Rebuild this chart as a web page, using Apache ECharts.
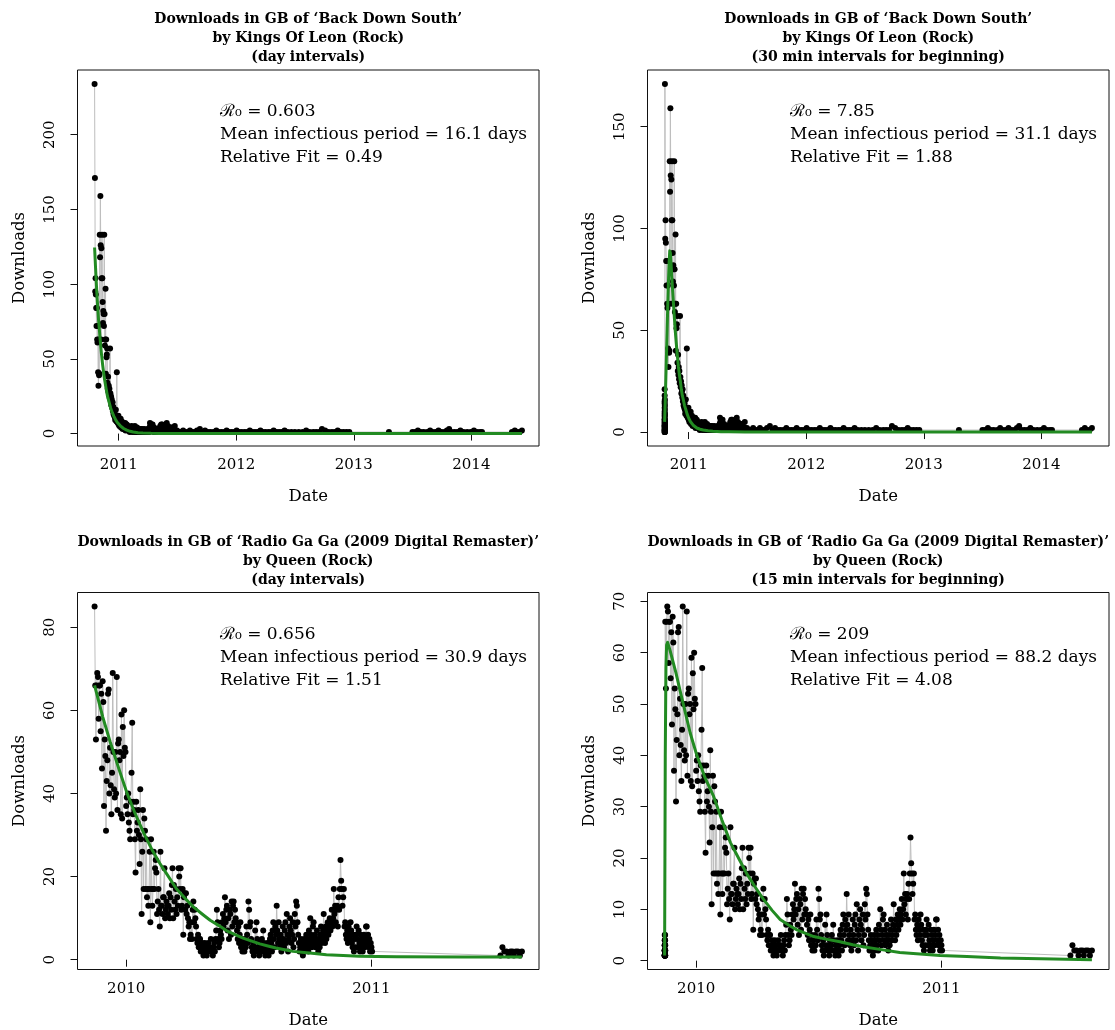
<!DOCTYPE html>
<html>
<head>
<meta charset="utf-8">
<script src="https://cdn.jsdelivr.net/npm/echarts@6/dist/echarts.min.js"></script>
<style>
  html, body { margin: 0; padding: 0; background: #fff; }
  #chart { width: 1115px; height: 1030px; }
</style>
</head>
<body>
<div id="chart"></div>
<script>
// start dates as fractional years (Oct 18 2010, Nov 15 2009)
const KL_START = 2010.7945;
const Q_START = 2009.8712;

// Back Down South, day 0 and daily values from day 1
const klDay0 = 234;
const klDaily = [
  171, 95, 104, 93, 84, 72, 84, 63, 61, 72,
  41, 32, 63, 39, 40, 133, 118, 159, 126, 63,
  124, 104, 133, 104, 88, 74, 82, 80, 72, 133,
  80, 59, 63, 97, 40, 63, 51, 53, 57, 34,
  30, 38, 28, 32, 26, 30, 24, 57, 27, 22,
  25, 19, 23, 20, 17, 21, 15, 18, 13, 16,
  12, 14, 11, 9, 12, 16, 10, 8, 41, 11,
  9, 7, 10, 12, 6, 8, 5, 9, 7, 6,
  10, 4, 7, 5, 8, 6, 3, 5, 7, 4,
  6, 3, 5, 4, 7, 2, 5, 3, 4, 6,
  3, 4, 2, 5, 3, 2, 4, 3, 1, 3,
  2, 4, 2, 3, 5, 2, 1, 3, 2, 4,
  2, 3, 1, 2, 5, 3, 2, 1, 3, 2,
  2, 4, 1, 2, 3, 1, 2, 2, 3, 1,
  2, 1, 3, 2, 1, 2, 3, 1, 2, 1,
  1, 2, 1, 3, 1, 2, 1, 1, 2, 1,
  2, 1, 1, 3, 2, 1, 2, 1, 1, 2,
  4, 7, 5, 3, 5, 2, 4, 6, 3, 6,
  2, 3, 1, 2, 4, 2, 1, 3, 2, 1,
  2, 1, 3, 2, 1, 2, 1, 1, 2, 1,
  3, 2, 4, 5, 3, 5, 6, 2, 3, 6,
  4, 2, 3, 1, 2, 3, 1, 2, 4, 2,
  3, 5, 4, 7, 3, 2, 4, 5, 2, 3,
  1, 2, 3, 2, 1, 4, 2, 3, 1, 4,
  2, 1, 3, 2, 1, 2, 1, 2, 5, 2
];
const klLateDays = [
  256, 262, 268, 275, 281, 288, 296, 303, 310, 318,
  327, 335, 343, 352, 360, 369, 378, 386, 394, 402,
  410, 418, 426, 434, 441, 449, 457, 466, 474, 482,
  490, 498, 506, 515, 523, 531, 540, 548, 556, 565,
  573, 581, 590, 600, 611, 622, 634, 646, 657, 668,
  679, 688, 697, 706, 716, 727, 737, 746, 755, 764,
  773, 782, 791, 914,
  987, 995, 1004, 1013, 1022, 1033, 1042, 1050, 1059, 1068,
  1077, 1086, 1094, 1101, 1108, 1117, 1126, 1136, 1146, 1157,
  1168, 1178, 1188, 1197, 1203,
  1296, 1305, 1312, 1320, 1327
];
const klLateDl = [
  2, 1, 1, 2, 1, 1, 2, 1, 1, 2,
  3, 1, 2, 1, 1, 1, 2, 1, 1, 1,
  2, 1, 1, 1, 2, 1, 1, 1, 1, 2,
  1, 1, 1, 2, 1, 1, 1, 1, 2, 1,
  1, 1, 2, 1, 1, 1, 1, 1, 2, 1,
  1, 1, 1, 3, 2, 1, 1, 1, 2, 1,
  1, 1, 1, 1,
  1, 1, 2, 1, 1, 1, 2, 1, 1, 2,
  1, 1, 2, 3, 1, 1, 1, 2, 1, 1,
  1, 2, 1, 1, 1,
  1, 2, 1, 1, 2
];
// first day split into 30 min intervals
const kl30min = [
  0, 1, 3, 6, 10, 15, 21, 18, 14, 12, 9, 8, 6, 5, 7, 4, 3, 5, 2, 4,
  1, 3, 2, 0, 1, 2, 1, 0, 3, 5, 8, 11, 13, 16, 9, 6, 4, 2, 1, 0
];

// Radio Ga Ga, day 0 and daily values from day 1
const qDay0 = 85;
const qDaily = [
  66, 53, 66, 69, 68, 58, 66, 66, 55, 64,
  46, 67, 62, 37, 53, 49, 31, 43, 48, 64,
  65, 40, 51, 42, 35, 45, 69, 50, 41, 39,
  50, 40, 68, 36, 52, 53, 48, 50, 35, 59,
  34, 56, 49, 60, 51, 50, 37, 39, 35, 40,
  33, 31, 29, 38, 45, 57, 35, 38, 36, 29,
  21, 38, 31, 33, 36, 30, 23, 41, 29, 11,
  26, 36, 17, 34, 31, 17, 29, 15, 17, 13,
  17, 26, 9, 29, 17, 13, 17, 26, 17, 22,
  24, 21, 11, 14, 17, 12, 8, 26, 13, 13,
  11, 15, 15, 22, 10, 12, 14, 13, 11, 13,
  16, 10, 15, 12, 18, 22, 10, 18, 14, 12,
  17, 11, 15, 13, 22, 20, 17, 22, 12, 13,
  17, 6, 15, 16, 12, 16, 11, 13, 10, 8,
  9, 5, 6, 9, 5, 12, 14, 9, 12, 10,
  8, 5, 4, 6, 3, 5, 5, 2, 3, 4,
  2, 1, 3, 4, 2, 3, 1, 2, 4, 2,
  3, 3, 5, 2, 2, 1, 3, 4, 2, 5,
  7, 12, 9, 5, 3, 4, 7, 6, 5, 9,
  11, 8, 10, 15, 9, 12, 13, 7, 10, 5,
  12, 11, 6, 14, 8, 13, 14, 9, 12, 10,
  9, 7, 5, 8, 4, 6, 9, 3, 5, 2,
  4, 3, 2, 5, 3, 8, 6, 4, 14, 12,
  8, 9, 5, 3, 2, 4, 1, 2, 7, 3,
  9, 5, 2, 3, 1, 4, 2, 3, 5, 2,
  7, 4, 2, 1, 3, 2, 4, 2, 1, 3,
  5, 6, 4, 2, 7, 9, 5, 3, 8, 6,
  13, 7, 4, 9, 5, 3, 6, 2, 4, 8,
  5, 3, 7, 9, 4, 11, 6, 2, 5, 8,
  10, 7, 4, 6, 9, 3, 5, 11, 8, 14,
  13, 9, 6, 4, 2, 3, 5, 2, 4, 1,
  3, 5, 2, 4, 6, 3, 5, 2, 7, 4,
  10, 6, 3, 5, 8, 9, 4, 6, 3, 5,
  7, 4, 2, 5, 3, 6, 8, 4, 5, 7,
  11, 6, 4, 8, 5, 7, 9, 6, 8, 10,
  7, 9, 12, 8, 10, 17, 11, 13, 9, 12,
  13, 8, 15, 12, 17, 24, 19, 17, 13, 15,
  17, 8, 9, 6, 5, 7, 4, 8, 6, 5,
  9, 7, 4, 3, 6, 2, 5, 3, 6, 8,
  5, 3, 7, 4, 2, 6, 3, 5, 2, 4,
  6, 3, 5, 8, 8, 4, 6, 3, 5, 2, 4, 3, 2
];
const qLateDays = [604, 607, 610, 613, 616, 619, 622, 624, 627, 630, 633, 636];
const qLateDl = [1, 3, 2, 2, 1, 2, 2, 1, 2, 2, 1, 2];
// first day split into 15 min intervals
const q15min = [
  1, 2, 1, 3, 2, 4, 5, 3, 2, 1, 1, 2, 3, 1, 2,
  4, 1, 1, 2, 3, 1, 2, 1, 5, 4, 2, 1, 1, 3, 2
];

// fitted curves (day, value)
const klFitDaysL = [0, 3, 6, 9, 12, 15, 18, 21, 25, 30, 35, 40, 45, 50, 55, 60, 65, 70, 80, 90,
  100, 110, 120, 135, 150, 175, 200, 250, 300, 1327];
const klFitL = [124.5, 111, 98, 87, 77, 69, 61, 54, 46, 37.5, 31, 25, 21, 17, 14, 11.5, 9.4, 7.6, 5.2, 3.4,
  2.3, 1.5, 1.0, 0.6, 0.35, 0.15, 0.08, 0.02, 0, 0];
const klFitDaysR = [0, 2, 4, 6, 8, 10, 12, 14, 16, 18, 20, 22, 24, 26, 28, 30, 33, 36, 40, 43,
  46, 49, 52, 55, 58, 62, 66, 70, 75, 80, 90, 100, 110, 120, 135, 150, 175, 200, 250, 300, 1327];
const klFitR = [5, 15, 27, 39, 51, 63, 74, 83, 89, 88, 83, 77, 72, 67, 62, 57, 50, 44, 37, 32,
  28, 25, 21, 18, 16, 13, 11, 8.8, 6.8, 5.2, 3.2, 2, 1.4, 1, 0.6, 0.4, 0.2, 0.1, 0.03, 0, 0];
const qFitDaysL = [0, 12, 23, 36, 48, 60, 73, 85, 97, 110, 122, 135, 147, 160, 172, 185, 196, 210, 221, 235,
  246, 258, 270, 283, 295, 320, 345, 370, 394, 420, 450, 550, 636];
const qFitL = [66, 58.5, 52.5, 46, 40.2, 35.3, 30.5, 26.6, 23.2, 20, 17, 14.7, 12.7, 11, 9.5, 8.2, 7, 6, 5.2, 4.4,
  3.8, 3.3, 2.8, 2.4, 2.0, 1.6, 1.2, 1.0, 0.85, 0.75, 0.7, 0.65, 0.65];
const qFitDaysR = [0, 0.5, 1, 2, 3, 4.5, 8, 12, 17, 23, 30, 38, 48, 60, 73, 85, 98, 110, 122, 135,
  147, 160, 172, 185, 197, 210, 222, 240, 261, 280, 300, 325, 350, 380, 410, 450, 500, 560, 636];
const qFitR = [1, 20, 40, 57, 61.5, 62, 60.5, 58.5, 56, 52.6, 48.8, 44.4, 40, 35.7, 32, 27.5, 23, 20, 17, 14.3,
  12, 9.8, 8, 6.9, 6, 5.3, 4.7, 4.2, 3.7, 3.1, 2.6, 2.1, 1.6, 1.3, 1.0, 0.8, 0.5, 0.35, 0.2];

const klYears = [2011, 2012, 2013, 2014];
const qYears = [2010, 2011];
const klTicksL = [0, 50, 100, 150, 200];
const klTicksR = [0, 50, 100, 150];
const qTicksL = [0, 20, 40, 60, 80];
const qTicksR = [0, 10, 20, 30, 40, 50, 60, 70];

const titles = [
  ['Downloads in GB of ‘Back Down South’', 'by Kings Of Leon (Rock)', '(day intervals)'],
  ['Downloads in GB of ‘Back Down South’', 'by Kings Of Leon (Rock)', '(30 min intervals for beginning)'],
  ['Downloads in GB of ‘Radio Ga Ga (2009 Digital Remaster)’', 'by Queen (Rock)', '(day intervals)'],
  ['Downloads in GB of ‘Radio Ga Ga (2009 Digital Remaster)’', 'by Queen (Rock)', '(15 min intervals for beginning)']
];
const notes = [
  ['ℛ₀ = 0.603', 'Mean infectious period = 16.1 days', 'Relative Fit = 0.49'],
  ['ℛ₀ = 7.85', 'Mean infectious period = 31.1 days', 'Relative Fit = 1.88'],
  ['ℛ₀ = 0.656', 'Mean infectious period = 30.9 days', 'Relative Fit = 1.51'],
  ['ℛ₀ = 209', 'Mean infectious period = 88.2 days', 'Relative Fit = 4.08']
];

const FONT = '"DejaVu Serif", "Liberation Serif", serif';
const yr = (start, d) => start + d / 365;

function daily(start, vals) {
  return vals.map((v, i) => [yr(start, i + 1), v]);
}
function dated(start, days, vals) {
  return days.map((d, i) => [yr(start, d), vals[i]]);
}
function split(start, vals) {
  return vals.map((v, i) => [yr(start, i / vals.length), v]);
}

const pts = [
  [[yr(KL_START, 0), klDay0]].concat(daily(KL_START, klDaily), dated(KL_START, klLateDays, klLateDl)),
  split(KL_START, kl30min).concat(daily(KL_START, klDaily), dated(KL_START, klLateDays, klLateDl)),
  [[yr(Q_START, 0), qDay0]].concat(daily(Q_START, qDaily), dated(Q_START, qLateDays, qLateDl)),
  split(Q_START, q15min).concat(daily(Q_START, qDaily), dated(Q_START, qLateDays, qLateDl))
];
const fits = [
  dated(KL_START, klFitDaysL, klFitL),
  dated(KL_START, klFitDaysR, klFitR),
  dated(Q_START, qFitDaysL, qFitL),
  dated(Q_START, qFitDaysR, qFitR)
];
const xTicks = [klYears, klYears, qYears, qYears];
const yTicks = [klTicksL, klTicksR, qTicksL, qTicksR];

// plot boxes (pixels)
const boxes = [
  {left: 77.5, top: 70, width: 461.5, height: 376},
  {left: 647.5, top: 70, width: 461.5, height: 376},
  {left: 77.5, top: 592.5, width: 461.5, height: 377},
  {left: 647.5, top: 592.5, width: 461.5, height: 377}
];

// R style range: data range plus 4% each side
function range(arr) {
  let lo = Math.min(...arr), hi = Math.max(...arr);
  let e = (hi - lo) * 0.04;
  return [lo - e, hi + e];
}

let grid = [], xAxis = [], yAxis = [], series = [], graphic = [];
boxes.forEach((b, i) => {
  grid.push(Object.assign({show: true, borderColor: '#111', borderWidth: 1,
    backgroundColor: 'transparent', containLabel: false, outerBoundsMode: 'none'}, b));
  let xr = range(pts[i].map(p => p[0]));
  let yrg = range(pts[i].map(p => p[1]));
  xAxis.push({
    gridIndex: i, type: 'value', min: xr[0], max: xr[1],
    axisLine: {show: false}, splitLine: {show: false},
    axisTick: {show: true, inside: false, length: 7, customValues: xTicks[i],
      lineStyle: {color: '#111', width: 1}},
    axisLabel: {show: true, customValues: xTicks[i], margin: 12, color: '#000',
      fontSize: 15, fontFamily: FONT, formatter: v => String(v)}
  });
  yAxis.push({
    gridIndex: i, type: 'value', min: yrg[0], max: yrg[1],
    axisLine: {show: false}, splitLine: {show: false},
    axisTick: {show: true, inside: false, length: 7, customValues: yTicks[i],
      lineStyle: {color: '#111', width: 1}},
    axisLabel: {show: true, customValues: yTicks[i], margin: 20, rotate: 90, color: '#000',
      fontSize: 15, fontFamily: FONT, formatter: v => String(v)}
  });
  series.push({
    type: 'line', xAxisIndex: i, yAxisIndex: i, data: pts[i],
    symbol: 'circle', symbolSize: 6, showSymbol: true,
    itemStyle: {color: '#000'},
    lineStyle: {color: '#BEBEBE', width: 1},
    silent: true, z: 2
  });
  series.push({
    type: 'line', xAxisIndex: i, yAxisIndex: i, data: fits[i],
    symbol: 'none', smooth: false,
    lineStyle: {color: '#228B22', width: 3, join: 'round'},
    silent: true, z: 3
  });

  let cx = b.left + b.width / 2;
  // titles
  titles[i].forEach((t, k) => {
    graphic.push({type: 'text', x: cx, y: b.top - 50.5 + k * 19, silent: true,
      style: {text: t, fill: '#000', fontSize: 14, fontWeight: 'bold', fontFamily: FONT,
        align: 'center', verticalAlign: 'middle'}});
  });
  // annotations
  notes[i].forEach((t, k) => {
    graphic.push({type: 'text', x: b.left + 142.5, y: b.top + 42 + k * 23, silent: true,
      style: {text: t, fill: '#000', fontSize: 17, fontFamily: FONT,
        align: 'left', verticalAlign: 'middle'}});
  });
  // axis titles
  graphic.push({type: 'text', x: cx, y: b.top + b.height + 51, silent: true,
    style: {text: 'Date', fill: '#000', fontSize: 16.5, fontFamily: FONT,
      align: 'center', verticalAlign: 'middle'}});
  graphic.push({type: 'text', x: b.left - 57.5, y: b.top + b.height / 2, rotation: Math.PI / 2, silent: true,
    style: {text: 'Downloads', fill: '#000', fontSize: 16.5, fontFamily: FONT,
      align: 'center', verticalAlign: 'middle'}});
});

const chart = echarts.init(document.getElementById('chart'), null, {renderer: 'canvas'});
chart.setOption({
  animation: false,
  backgroundColor: '#fff',
  grid: grid,
  xAxis: xAxis,
  yAxis: yAxis,
  series: series,
  graphic: graphic
});
</script>
</body>
</html>
